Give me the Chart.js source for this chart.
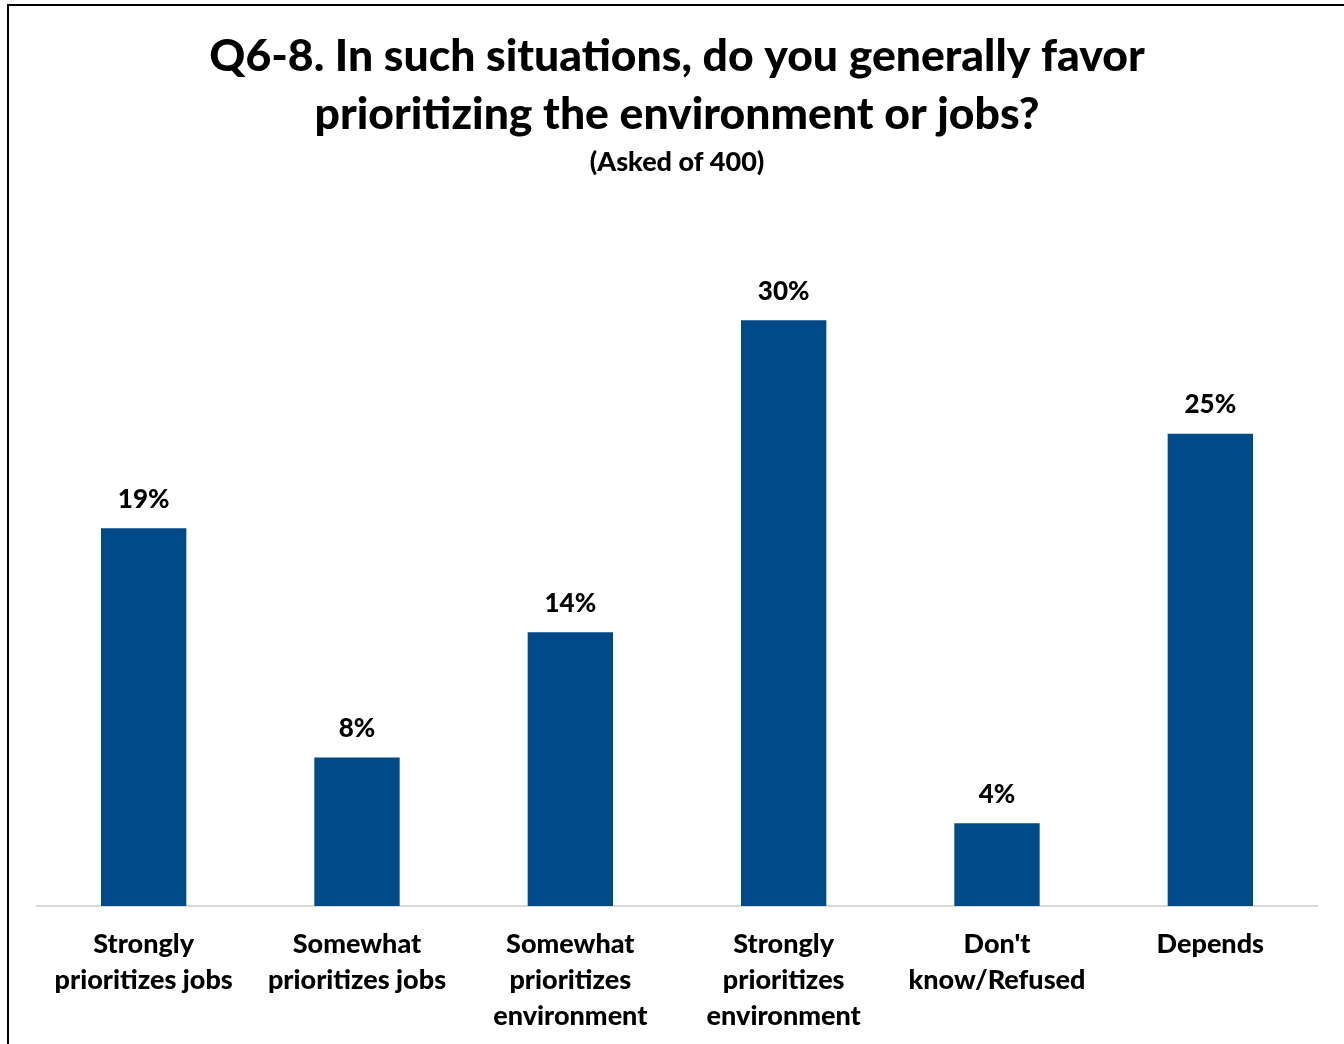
<!DOCTYPE html>
<html>
<head>
<meta charset="utf-8">
<script src="https://cdn.jsdelivr.net/npm/chart.js@4/dist/chart.umd.min.js"></script>
<style>
  html, body { margin: 0; padding: 0; background: #fff; overflow: hidden; }
  #wrap { position: relative; width: 1344px; height: 1044px; overflow: hidden; }
  #frame { position: absolute; left: 7px; top: 4px; right: -5px; bottom: -5px; border-left: 2px solid #000; border-top: 2px solid #000; pointer-events: none; }
  canvas { display: block; }
</style>
</head>
<body>
<div id="wrap">
  <canvas id="c" width="1344" height="1064"></canvas>
  <div id="frame"></div>
</div>
<script>
const categories = [
  ['Strongly', 'prioritizes jobs'],
  ['Somewhat', 'prioritizes jobs'],
  ['Somewhat', 'prioritizes', 'environment'],
  ['Strongly', 'prioritizes', 'environment'],
  ["Don't", 'know/Refused'],
  ['Depends']
];
const values = [19.6, 7.7, 14.2, 30.4, 4.3, 24.5];
const valueLabels = ['19%', '8%', '14%', '30%', '4%', '25%'];
const titleLines = ['Q6-8. In such situations, do you generally favor', 'prioritizing the environment or jobs?'];
const subtitleText = '(Asked of 400)';

const FONT = "Lato, 'Open Sans', 'Liberation Sans', sans-serif";
const W = 900;

const valueLabelPlugin = {
  id: 'valueLabels',
  afterDatasetsDraw(chart) {
    const ctx = chart.ctx;
    const meta = chart.getDatasetMeta(0);
    ctx.save();
    ctx.font = W + ' 26px ' + FONT;
    ctx.fillStyle = '#000';
    ctx.textAlign = 'center';
    ctx.textBaseline = 'middle';
    meta.data.forEach((bar, i) => {
      ctx.fillText(valueLabels[i], bar.x, bar.y - 29);
    });
    ctx.restore();
  }
};

new Chart(document.getElementById('c'), {
  type: 'bar',
  data: {
    labels: categories,
    datasets: [{
      data: values,
      backgroundColor: '#004A87',
      borderWidth: 0,
      categoryPercentage: 1.0,
      barPercentage: 0.4
    }]
  },
  options: {
    responsive: false,
    animation: false,
    layout: { padding: { left: 37, right: 27, top: 0, bottom: 10 } },
    plugins: {
      legend: { display: false },
      tooltip: { enabled: false },
      title: {
        display: true,
        text: titleLines,
        color: '#000',
        font: { family: FONT, size: 44.5, weight: W, lineHeight: 58 / 44.5 },
        padding: { top: 28, bottom: 2 }
      },
      subtitle: {
        display: true,
        text: subtitleText,
        color: '#000',
        font: { family: FONT, size: 27, weight: W, lineHeight: 1.2 },
        padding: { top: 0, bottom: 56 }
      }
    },
    scales: {
      x: {
        grid: { display: false, drawTicks: false },
        border: { display: true, color: '#d9d9d9', width: 2 },
        ticks: {
          color: '#000',
          font: { family: FONT, size: 27, weight: W, lineHeight: 36 / 27 },
          padding: 20,
          maxRotation: 0,
          autoSkip: false
        }
      },
      y: {
        display: false,
        min: 0,
        max: 34.85,
        grid: { display: false }
      }
    }
  },
  plugins: [valueLabelPlugin]
});
</script>
</body>
</html>
